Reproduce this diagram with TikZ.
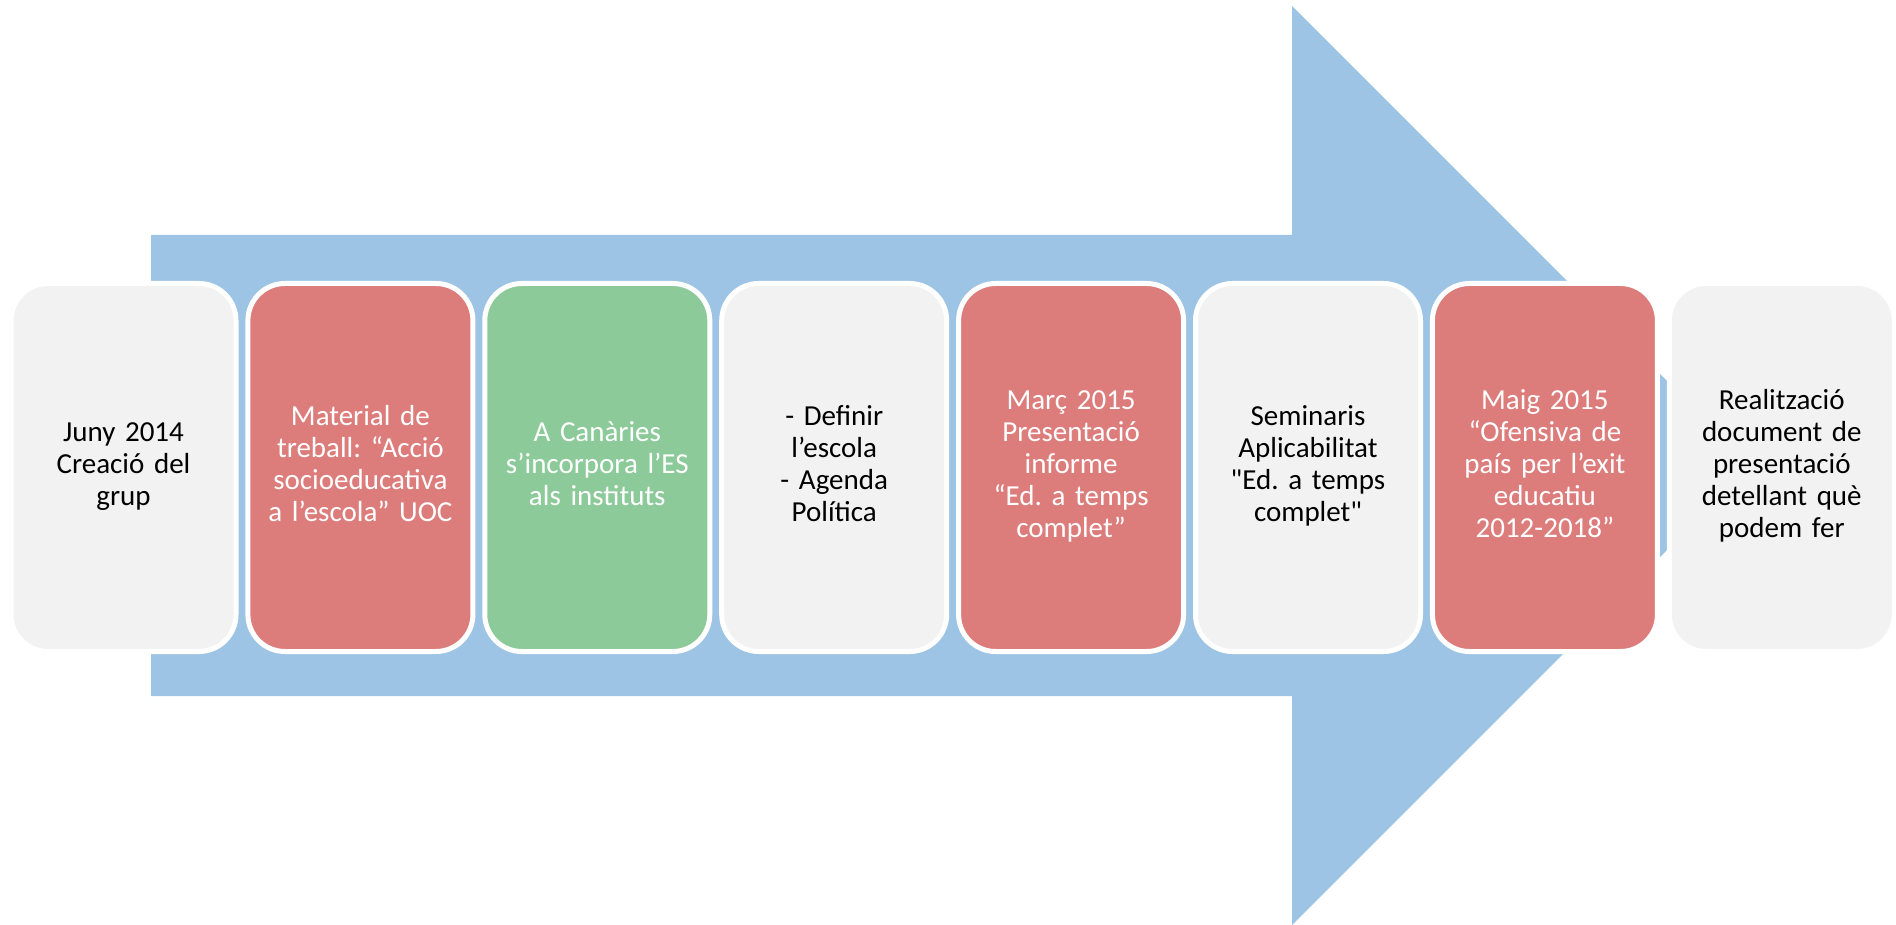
\documentclass[tikz,border=0pt]{standalone}
\usepackage{fontspec}
\setmainfont{Carlito}[WordSpace=0.9]
\frenchspacing
\definecolor{arrowblue}{HTML}{9DC4E4}
\definecolor{boxgray}{HTML}{F2F2F2}
\definecolor{boxred}{HTML}{DC7D7C}
\definecolor{boxgreen}{HTML}{8DCA9A}
\tikzset{
  stage/.style={rectangle, rounded corners=37pt, draw=white, line width=5pt,
    minimum width=225pt, minimum height=368pt, inner sep=0pt,
    text width=215pt, align=center,
    font=\fontsize{29}{32}\selectfont,
    execute at begin node=\strut, execute at end node=\strut},
  graystage/.style={stage, fill=boxgray, text=black},
  redstage/.style={stage, fill=boxred, text=white},
  greenstage/.style={stage, fill=boxgreen, text=white}
}
\begin{document}
\begin{tikzpicture}[x=1pt,y=-1pt]
\useasboundingbox (0,0) rectangle (1896,925);
% big arrow
\fill[arrowblue] (151,235) -- (1292,235) -- (1292,6) -- (1751.5,465.5) -- (1292,925) -- (1292,696) -- (151,696) -- cycle;
% stages
\node[graystage]  (b1) at (123.5,467.5) {Juny 2014\\Creació del\\grup};
\node[redstage]   (b2) at (360.4,467.5) {Material de\\treball: “Acció\\socioeducativa\\a l’escola” UOC};
\node[greenstage] (b3) at (597.3,467.5) {A Canàries\\s’incorpora l’ES\\als instituts};
\node[graystage]  (b4) at (834.2,467.5) {- Definir\\l’escola\\- Agenda\\Política};
\node[redstage]   (b5) at (1071.1,467.5) {Març 2015\\Presentació\\informe\\“Ed. a temps\\complet”};
\node[graystage]  (b6) at (1308.0,467.5) {Seminaris\\Aplicabilitat\\\textquotedbl Ed. a temps\\complet\textquotedbl};
\node[redstage]   (b7) at (1544.9,467.5) {Maig 2015\\“Ofensiva de\\país per l’exit\\educatiu\\2012-2018”};
\node[graystage]  (b8) at (1781.8,467.5) {Realització\\document de\\presentació\\detellant què\\podem fer};
\end{tikzpicture}
\end{document}
